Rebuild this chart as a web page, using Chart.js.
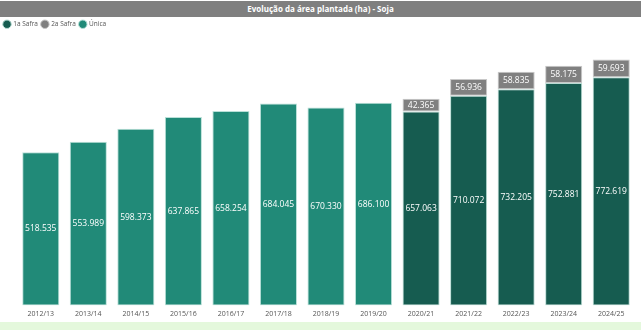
<!DOCTYPE html>
<html>
<head>
<meta charset="utf-8">
<script src="https://cdn.jsdelivr.net/npm/chart.js@4"></script>
<style>
  body { margin: 0; width: 641px; height: 330px; background: #fff; overflow: hidden; font-family: "Open Sans", sans-serif; }
  .title-bar { position: absolute; left: 0; top: 1px; width: 641px; height: 16px; background: #7f7f7f; color: #fff; font-weight: bold; font-size: 8px; line-height: 16px; text-align: center; }
  .chart-box { position: absolute; left: 0; top: 17px; width: 641px; height: 305px; }
  .footer-band { position: absolute; left: 0; top: 322px; width: 641px; height: 8px; background: #e4f8dc; }
</style>
</head>
<body>
<div class="title-bar">Evolução da área plantada (ha) - Soja</div>
<div class="chart-box"><canvas id="areaChart"></canvas></div>
<div class="footer-band"></div>
<script>
// Safras de soja
const safras = ['2012/13', '2013/14', '2014/15', '2015/16', '2016/17', '2017/18', '2018/19',
                '2019/20', '2020/21', '2021/22', '2022/23', '2023/24', '2024/25'];
const primeiraSafra = [null, null, null, null, null, null, null, null, 657063, 710072, 732205, 752881, 772619];
const segundaSafra = [null, null, null, null, null, null, null, null, 42365, 56936, 58835, 58175, 59693];
const safraUnica = [518535, 553989, 598373, 637865, 658254, 684045, 670330, 686100, null, null, null, null, null];

// formata com ponto de milhar
function fmt(v) {
    return String(v).replace(/\B(?=(\d{3})+(?!\d))/g, '.');
}

// escreve o valor no meio de cada segmento
const valueLabels = {
    id: 'valueLabels',
    afterDatasetsDraw(chart) {
        const ctx = chart.ctx;
        ctx.save();
        ctx.font = '8.5px "Open Sans", sans-serif';
        ctx.textAlign = 'center';
        ctx.textBaseline = 'middle';
        ctx.fillStyle = '#ffffff';
        chart.data.datasets.forEach((ds, i) => {
            const meta = chart.getDatasetMeta(i);
            meta.data.forEach((bar, j) => {
                const v = ds.data[j];
                if (v == null) return;
                ctx.fillText(fmt(v), bar.x, (bar.y + bar.base) / 2);
            });
        });
        ctx.restore();
    }
};

const ctx = document.getElementById('areaChart').getContext('2d');
const areaChart = new Chart(ctx, {
    type: 'bar',
    data: {
        labels: safras,
        datasets: [{
            label: '1a Safra',
            data: primeiraSafra,
            backgroundColor: '#165c50',
            borderColor: '#b9dcd4',
            borderWidth: 1,
            borderSkipped: false
        }, {
            label: '2a Safra',
            data: segundaSafra,
            backgroundColor: '#808080',
            borderColor: '#c8c8c8',
            borderWidth: 1,
            borderSkipped: false
        }, {
            label: 'Única',
            data: safraUnica,
            backgroundColor: '#218a78',
            borderColor: '#b9e0d8',
            borderWidth: 1,
            borderSkipped: false
        }]
    },
    options: {
        responsive: true,
        maintainAspectRatio: false,
        animation: false,
        categoryPercentage: 0.78,
        barPercentage: 1,
        layout: { padding: { left: 0, right: 6, top: 0, bottom: 0 } },
        scales: {
            x: {
                stacked: true,
                grid: { display: false, drawTicks: false },
                border: { display: false },
                ticks: { color: '#555', font: { size: 7, family: '"Open Sans", sans-serif' }, padding: 4, maxRotation: 0 }
            },
            y: {
                stacked: true,
                min: 0,
                max: 907000,
                grid: { display: false, drawTicks: false },
                border: { display: false },
                ticks: { display: false },
                afterFit(scale) { scale.width = 17; }
            }
        },
        plugins: {
            legend: {
                position: 'top',
                align: 'start',
                labels: {
                    usePointStyle: true,
                    pointStyle: 'circle',
                    boxWidth: 6,
                    boxHeight: 6,
                    padding: 4,
                    color: '#555',
                    font: { size: 6.5, family: '"Open Sans", sans-serif' }
                }
            },
            tooltip: { enabled: false }
        }
    },
    plugins: [valueLabels]
});
</script>
</body>
</html>
